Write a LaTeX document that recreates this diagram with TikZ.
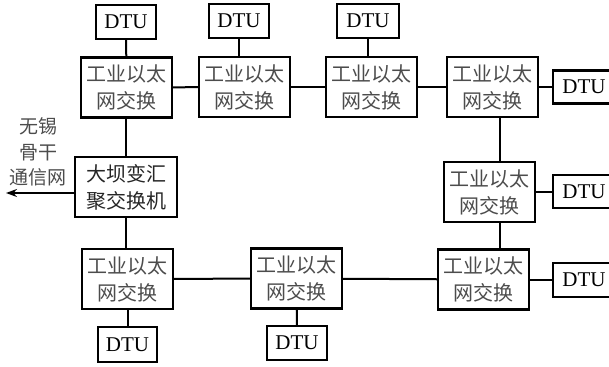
\documentclass[tikz,border=0pt]{standalone}
\usepackage{fontspec}
\setmainfont{Liberation Serif}
\newfontfamily\cjk{Noto Sans CJK SC}
\usetikzlibrary{arrows.meta}
\begin{document}
\begin{tikzpicture}[x=1pt,y=-1pt,
  sw/.style={draw,line width=2.2pt,minimum width=91pt,minimum height=60pt,inner sep=0pt,align=center,font=\cjk\fontsize{20}{27}\selectfont,text=black!70},
  dtu/.style={draw,line width=2.2pt,minimum width=60pt,minimum height=34pt,inner sep=0pt,font=\fontsize{21}{24}\selectfont},
  link/.style={line width=2pt}]
\useasboundingbox (0,0) rectangle (609,366);
% top row
\node[sw] (S1) at (126.5,87.5) {工业以太\\网交换};
\node[sw] (S2) at (244.5,87) {工业以太\\网交换};
\node[sw] (S3) at (371.5,87) {工业以太\\网交换};
\node[sw] (S4) at (492.5,87) {工业以太\\网交换};
\node[dtu] (D1) at (126,22) {DTU};
\node[dtu] (D2) at (239,21) {DTU};
\node[dtu,minimum width=62pt] (D3) at (368,21) {DTU};
\node[dtu,minimum width=62pt,minimum height=33pt] (D4) at (584,87) {DTU};
% hub
\node[sw,minimum width=102pt,text=black!85] (H) at (126,187) {大坝变汇\\聚交换机};
\node[font=\cjk\fontsize{19}{25.5}\selectfont,align=center,text=black!70] (L) at (38,152) {无锡\\骨干\\通信网};
\coordinate (A) at (6,193);
% middle right
\node[sw] (S5) at (489.5,192) {工业以太\\网交换};
\node[dtu,minimum width=62pt,minimum height=33pt] (D5) at (584,191.5) {DTU};
% bottom row
\node[sw] (S6) at (127.5,279) {工业以太\\网交换};
\node[sw] (S7) at (296.5,278.5) {工业以太\\网交换};
\node[sw] (S8) at (483.5,279.5) {工业以太\\网交换};
\node[dtu,minimum width=59pt,minimum height=35pt] (D6) at (127.5,344.5) {DTU};
\node[dtu,minimum height=34pt] (D7) at (297,343) {DTU};
\node[dtu,minimum width=62pt,minimum height=34pt] (D8) at (584,280) {DTU};
% links
\draw[link] (D1) -- (S1);
\draw[link] (D2) -- (D2 |- S2.north);
\draw[link] (D3) -- (D3 |- S3.north);
\draw[link] (S1) -- (S2);
\draw[link] (S2) -- (S3);
\draw[link] (S3) -- (S4);
\draw[link] (S4) -- (S4 -| D4.west);
\draw[link] (S1.south -| H.north) -- (H);
\draw[link] (H) -- (H |- S6.north);
\draw[link,-{Stealth[length=11pt,width=8pt]}] (H.west |- A) -- (A);
\draw[link] (S4.south -| 500,0) -- (S5.north -| 500,0);
\draw[link] (S5.south -| 500,0) -- (S8.north -| 500,0);
\draw[link] (S5) -- (S5 -| D5.west);
\draw[link] (S6) -- (S7);
\draw[link] (S7) -- (S8);
\draw[link] (S8) -- (S8 -| D8.west);
\draw[link] (S6) -- (D6);
\draw[link] (S7) -- (D7);
\end{tikzpicture}
\end{document}
